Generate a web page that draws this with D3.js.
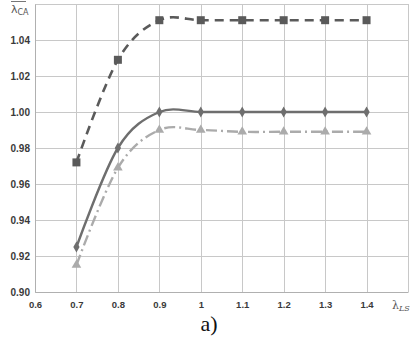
<!DOCTYPE html>
<html>
<head>
<meta charset="utf-8">
<script src="https://cdn.jsdelivr.net/npm/d3@7"></script>
<style>
  body { margin: 0; background: #fff; }
  svg { display: block; }
</style>
</head>
<body>
<div class="svgWrapper"></div>
<script>
// Data //
const lambdaLS = [0.7, 0.8, 0.9, 1.0, 1.1, 1.2, 1.3, 1.4];
const seriesSquare = [0.972, 1.029, 1.051, 1.051, 1.051, 1.051, 1.051, 1.051];
const seriesDiamond = [0.925, 0.980, 1.000, 1.000, 1.000, 1.000, 1.000, 1.000];
const seriesTriangle = [0.915, 0.969, 0.990, 0.990, 0.989, 0.989, 0.989, 0.989];
const xTicks = [0.6, 0.7, 0.8, 0.9, 1.0, 1.1, 1.2, 1.3, 1.4];
const yTicks = [0.90, 0.92, 0.94, 0.96, 0.98, 1.00, 1.02, 1.04];

// Styles //
const svgStyles = { w: 419, h: 337 };
const plot = { left: 35, right: 408, top: 4, bottom: 292 };

let svg = d3
  .select(".svgWrapper")
  .append("svg")
  .attr("width", svgStyles.w)
  .attr("height", svgStyles.h);

const xScale = d3.scaleLinear().domain([0.6, 1.5]).range([plot.left, plot.right]);
const yScale = d3.scaleLinear().domain([0.90, 1.06]).range([plot.bottom, plot.top]);

// grid
const grid = svg.append("g").attr("stroke", "#c8c8c8").attr("stroke-width", 1);
grid.selectAll(".gx")
  .data(xTicks.concat([1.5]))
  .enter()
  .append("line")
  .attr("x1", d => Math.round(xScale(d)) + 0.5)
  .attr("x2", d => Math.round(xScale(d)) + 0.5)
  .attr("y1", plot.top)
  .attr("y2", plot.bottom);
grid.selectAll(".gy")
  .data(yTicks.concat([1.06]))
  .enter()
  .append("line")
  .attr("x1", plot.left)
  .attr("x2", plot.right)
  .attr("y1", d => Math.round(yScale(d)) + 0.5)
  .attr("y2", d => Math.round(yScale(d)) + 0.5);

// axes
const xAxis = d3.axisBottom(xScale)
  .tickValues(xTicks)
  .tickSize(0)
  .tickPadding(9)
  .tickFormat(d => d === 1 ? "1" : d3.format(".1f")(d));
svg.append("g")
  .attr("transform", `translate(0, ${plot.bottom})`)
  .call(xAxis)
  .call(g => g.select(".domain").attr("stroke", "#b0b0b0"))
  .selectAll("text")
  .style("font-family", "Arial, 'Liberation Sans', sans-serif")
  .style("font-size", "9.5px")
  .style("font-weight", "bold")
  .attr("fill", "#3a3a3a");

const yAxis = d3.axisLeft(yScale)
  .tickValues(yTicks)
  .tickSize(0)
  .tickPadding(5)
  .tickFormat(d3.format(".2f"));
svg.append("g")
  .attr("transform", `translate(${plot.left}, 0)`)
  .call(yAxis)
  .call(g => g.select(".domain").attr("stroke", "#b0b0b0"))
  .selectAll("text")
  .style("font-family", "Arial, 'Liberation Sans', sans-serif")
  .style("font-size", "10px")
  .style("font-weight", "bold")
  .attr("fill", "#3a3a3a");

// axis titles
const yTitle = svg.append("text")
  .attr("x", 11)
  .attr("y", 13)
  .style("font-family", "'DejaVu Sans', sans-serif")
  .style("font-size", "11px")
  .attr("fill", "#555");
yTitle.append("tspan").text("λ");
yTitle.append("tspan").attr("dy", 2).style("font-size", "8px").text("CA");
svg.append("line")
  .attr("x1", 11).attr("x2", 26)
  .attr("y1", 1.5).attr("y2", 1.5)
  .attr("stroke", "#777").attr("stroke-width", 1);

const xTitle = svg.append("text")
  .attr("x", 392)
  .attr("y", 309)
  .style("font-family", "'DejaVu Serif', serif")
  .style("font-size", "11px")
  .attr("fill", "#555");
xTitle.append("tspan").text("λ");
xTitle.append("tspan").attr("dy", 2).style("font-size", "8px").style("font-style", "italic").text("LS");

svg.append("text")
  .attr("x", 209)
  .attr("y", 331)
  .attr("text-anchor", "middle")
  .style("font-family", "'Liberation Serif', 'Times New Roman', serif")
  .style("font-size", "22px")
  .attr("fill", "#111")
  .text("a)");

// series
const line = d3.line()
  .x(d => xScale(d[0]))
  .y(d => yScale(d[1]))
  .curve(d3.curveCatmullRom.alpha(0));

const series = [
  { values: seriesSquare, color: "#5a5a5a", width: 2.6, dash: "9,6", marker: "square" },
  { values: seriesDiamond, color: "#6e6e6e", width: 2.4, dash: null, marker: "diamond" },
  { values: seriesTriangle, color: "#ababab", width: 2.4, dash: "11,4,2,4", marker: "triangle" }
];

series.forEach(s => {
  const pts = lambdaLS.map((x, i) => [x, s.values[i]]);
  svg.append("path")
    .datum(pts)
    .attr("d", line)
    .attr("fill", "none")
    .attr("stroke", s.color)
    .attr("stroke-width", s.width)
    .attr("stroke-dasharray", s.dash);

  const symType = s.marker === "square" ? d3.symbolSquare
    : s.marker === "diamond" ? d3.symbolDiamond : d3.symbolTriangle;
  const symSize = s.marker === "square" ? 64 : s.marker === "diamond" ? 34 : 40;
  svg.selectAll(null)
    .data(pts)
    .enter()
    .append("path")
    .attr("d", d3.symbol().type(symType).size(symSize))
    .attr("transform", d => `translate(${xScale(d[0])}, ${yScale(d[1])})`)
    .attr("fill", s.color);
});
</script>
</body>
</html>
